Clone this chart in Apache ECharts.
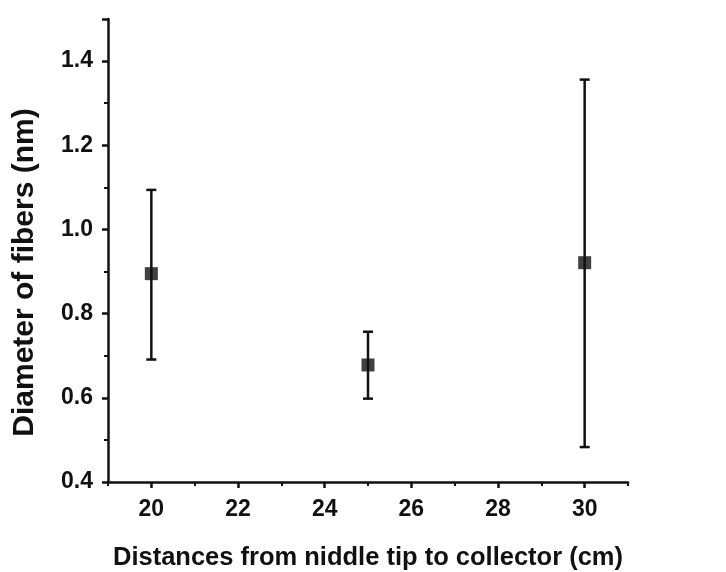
<!DOCTYPE html>
<html><head><meta charset="utf-8">
<script src="https://cdn.jsdelivr.net/npm/echarts@6/dist/echarts.min.js"></script>
<style>html,body{margin:0;padding:0;background:#fff}#c{width:726px;height:572px}</style>
</head><body><div id="c"></div>
<script>
const distances = [20, 25, 30];
const meanDiameter = [0.895, 0.678, 0.921];
const lowerBound = [0.691, 0.598, 0.483];
const upperBound = [1.094, 0.757, 1.356];
const xMajorTicks = [20, 22, 24, 26, 28, 30];
const xMinorTicks = [19, 21, 23, 25, 27, 29, 31];
const xTitle = 'Distances from niddle tip to collector (cm)';
const yTitle = 'Diameter of fibers (nm)';

const chart = echarts.init(document.getElementById('c'), null, {renderer: 'canvas'});
const font = '"Liberation Sans", Arial, sans-serif';
const errData = distances.map((d, i) => [d, lowerBound[i], upperBound[i]]);
const ptData = distances.map((d, i) => [d, meanDiameter[i]]);

chart.setOption({
  backgroundColor: '#ffffff',
  animation: false,
  grid: {left: 108, top: 19, right: 98, bottom: 90, containLabel: false, outerBoundsMode: 'none'},
  xAxis: [{
    type: 'value', min: 19, max: 31, interval: 1,
    name: xTitle, nameLocation: 'middle', nameGap: 63,
    nameTextStyle: {fontFamily: font, fontWeight: 'bold', fontSize: 25.5, color: '#111'},
    axisLine: {lineStyle: {color: '#111', width: 2.5}},
    axisTick: {show: true, length: 6, inside: false, customValues: xMajorTicks, lineStyle: {color: '#111', width: 2.5}},
    axisLabel: {fontFamily: font, fontWeight: 'bold', fontSize: 23, color: '#111', margin: 16, customValues: xMajorTicks},
    splitLine: {show: false}
  }, {
    type: 'value', min: 19, max: 31, interval: 1, position: 'bottom',
    axisLine: {show: false},
    axisTick: {show: true, length: 4, inside: false, customValues: xMinorTicks, lineStyle: {color: '#111', width: 2}},
    axisLabel: {show: false},
    splitLine: {show: false}
  }],
  yAxis: {
    type: 'value', min: 0.4, max: 1.5, interval: 0.2,
    name: yTitle, nameLocation: 'middle', nameGap: 68, nameRotate: 90,
    nameTextStyle: {fontFamily: font, fontWeight: 'bold', fontSize: 30, color: '#111', padding: [0, 44, 0, 0]},
    axisLine: {lineStyle: {color: '#111', width: 2.5}},
    axisTick: {show: true, length: 6, inside: false, lineStyle: {color: '#111', width: 2.5}},
    minorTick: {show: true, splitNumber: 2, length: 4, lineStyle: {color: '#111', width: 2}},
    axisLabel: {fontFamily: font, fontWeight: 'bold', fontSize: 23, color: '#111', margin: 15,
      formatter: v => v > 1.45 ? '' : v.toFixed(1)},
    splitLine: {show: false}
  },
  series: [
    {
      type: 'custom',
      data: errData,
      renderItem: function (params, api) {
        const x = api.value(0);
        const lo = api.coord([x, api.value(1)]);
        const hi = api.coord([x, api.value(2)]);
        const cw = 5;
        const st = {stroke: '#111', lineWidth: 2.5};
        return {type: 'group', children: [
          {type: 'line', shape: {x1: lo[0], y1: lo[1], x2: hi[0], y2: hi[1]}, style: st},
          {type: 'line', shape: {x1: lo[0]-cw, y1: lo[1], x2: lo[0]+cw, y2: lo[1]}, style: st},
          {type: 'line', shape: {x1: hi[0]-cw, y1: hi[1], x2: hi[0]+cw, y2: hi[1]}, style: st}
        ]};
      },
      z: 2
    },
    {
      type: 'scatter',
      data: ptData,
      symbol: 'rect', symbolSize: 13,
      itemStyle: {color: '#111'},
      z: 3
    }
  ]
});
</script></body></html>
